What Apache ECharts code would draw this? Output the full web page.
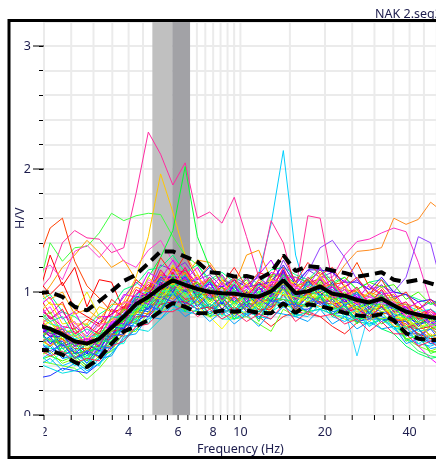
<!DOCTYPE html>
<html>
<head>
<meta charset="utf-8">
<script src="https://cdn.jsdelivr.net/npm/echarts@6/dist/echarts.min.js"></script>
<style>
  html, body { margin: 0; padding: 0; background: #ffffff; }
  #chart { width: 436px; height: 459px; }
</style>
</head>
<body>
<div id="chart"></div>
<script>
// Frequency samples (Hz), log-spaced
const freqs = [1.902,2.103,2.326,2.572,2.844,3.145,3.478,3.846,4.252,4.702,5.200,5.750,6.359,7.031,7.775,8.598,9.508,10.514,11.627,12.857,14.217,15.721,17.385,19.224,21.258,23.508,25.995,28.746,31.787,35.151,38.870,42.983,47.531,52.561];

// H/V curves of the individual time windows
const w01 = [1.00,1.12,1.40,1.50,1.44,1.43,1.32,1.36,1.80,2.30,2.12,1.87,2.05,1.60,1.65,1.56,1.77,1.45,1.12,1.02,1.18,0.94,1.08,1.06,1.02,0.92,0.96,0.86,0.98,0.84,0.82,0.74,0.76,0.70];
const w02 = [1.00,1.40,1.25,1.36,1.37,1.48,1.64,1.58,1.62,1.64,1.63,1.45,1.30,1.22,1.08,1.14,1.02,1.12,1.00,1.12,1.16,1.06,1.06,1.12,0.98,1.02,0.92,0.98,0.94,0.96,0.82,0.86,0.76,0.80];
const w03 = [1.25,1.52,1.60,1.25,1.05,0.95,0.84,0.86,0.94,1.02,1.12,1.08,1.10,1.08,0.94,1.04,0.92,1.00,0.90,1.06,1.04,0.92,1.00,1.10,0.94,0.98,0.86,0.94,0.88,0.92,0.78,0.82,0.72,0.76];
const w04 = [0.95,1.30,1.05,1.20,0.88,1.10,1.08,0.85,0.92,1.00,1.06,1.18,1.16,1.00,1.10,0.96,1.04,0.94,1.08,0.96,1.14,0.98,1.10,1.00,1.06,0.92,1.00,0.88,0.98,0.84,0.86,0.74,0.80,0.70];
const w05 = [0.92,1.05,1.20,1.30,1.42,1.32,1.20,1.26,1.10,1.02,1.16,1.08,1.12,1.26,1.24,1.10,1.05,1.30,1.34,1.10,1.08,1.06,1.00,1.14,1.00,1.04,0.92,1.00,0.96,0.98,0.84,0.88,0.78,0.82];
const w06 = [1.15,1.22,1.10,1.33,1.38,1.28,1.40,1.25,1.20,1.34,1.42,1.25,1.20,1.06,1.12,1.00,1.10,0.98,1.06,1.02,1.18,0.98,1.10,1.04,1.06,0.94,1.00,0.90,1.00,0.88,0.90,0.80,0.84,0.78];
const w07 = [0.80,0.74,0.70,0.66,0.74,0.88,0.84,0.92,1.12,1.45,1.96,1.65,1.30,1.15,0.96,1.04,0.90,1.00,0.86,0.98,1.00,0.88,1.02,0.94,0.92,0.84,0.92,0.82,0.90,0.78,0.80,0.70,0.74,0.68];
const w08 = [0.64,0.72,0.58,0.62,0.52,0.66,0.70,0.88,0.92,1.12,1.28,1.50,2.02,1.45,1.20,1.12,1.00,1.06,0.94,1.08,1.10,1.04,0.96,1.10,0.98,1.04,0.90,0.98,0.92,0.94,0.82,0.86,0.76,0.80];
const w09 = [0.58,0.64,0.50,0.56,0.46,0.58,0.62,0.80,0.82,0.96,0.94,1.08,0.96,1.00,0.90,1.00,0.88,1.00,1.15,1.55,2.15,1.30,0.96,1.06,0.92,0.98,0.86,0.92,0.86,0.88,0.76,0.80,0.70,0.74];
const w10 = [0.80,0.70,0.70,0.58,0.62,0.60,0.74,0.78,0.94,0.92,1.08,1.04,1.10,0.96,1.04,0.92,1.02,0.92,0.98,0.96,1.10,0.94,1.04,1.00,1.08,1.22,1.33,1.34,1.36,1.60,1.55,1.59,1.73,1.65];
const w11 = [0.72,0.80,0.66,0.68,0.56,0.70,0.72,0.88,0.90,1.04,1.04,1.16,1.02,1.08,0.98,1.04,0.98,1.06,0.94,1.08,1.08,1.06,1.00,1.12,1.12,1.30,1.41,1.43,1.48,1.52,1.49,1.24,0.92,0.84];
const w12 = [0.64,0.70,0.56,0.60,0.50,0.64,0.64,0.82,0.84,0.98,0.96,1.10,0.98,1.04,0.92,1.02,0.92,0.98,0.90,1.04,1.06,1.02,1.16,1.36,1.42,1.28,1.10,1.02,1.05,1.00,1.12,1.45,1.40,1.02];
const w13 = [0.76,0.64,0.68,0.56,0.60,0.56,0.74,0.76,0.96,0.94,1.10,1.06,1.10,0.98,1.04,0.94,1.04,0.94,1.10,1.58,1.40,1.02,1.62,1.60,1.08,0.96,1.00,0.90,1.02,0.88,0.90,0.78,0.84,0.74];
const w14 = [0.62,0.68,0.54,0.58,0.48,0.60,0.62,0.80,0.82,0.94,0.92,1.04,0.94,0.96,0.86,0.92,0.82,0.88,0.80,0.72,0.80,0.84,0.82,0.80,0.72,0.66,0.75,0.80,0.78,0.75,0.72,0.70,0.62,0.60];
const w15 = [0.52,0.58,0.46,0.50,0.42,0.52,0.58,0.72,0.78,0.88,0.90,1.00,0.92,0.94,0.88,0.92,0.86,0.92,0.84,0.92,0.96,0.90,0.90,0.96,0.86,0.86,0.48,0.84,0.88,0.82,0.72,0.66,0.64,0.62];
const w16 = [0.68,0.58,0.60,0.50,0.52,0.52,0.68,0.72,0.88,0.88,1.00,1.00,1.02,0.92,0.96,0.90,0.94,0.88,0.92,0.90,1.04,0.88,0.96,0.94,0.92,0.86,0.86,0.80,0.88,0.78,0.72,0.56,0.46,0.38];
const w17 = [0.56,0.62,0.50,0.50,0.44,0.54,0.60,0.74,0.78,0.88,0.92,1.00,0.92,0.92,0.86,0.90,0.84,0.90,0.82,0.90,0.94,0.88,0.88,0.94,0.84,0.86,0.78,0.80,0.78,0.76,0.62,0.52,0.48,0.46];
const w18 = [0.44,0.42,0.40,0.38,0.29,0.38,0.50,0.62,0.70,0.78,0.84,0.90,0.86,0.84,0.80,0.82,0.78,0.80,0.74,0.68,0.86,0.80,0.84,0.86,0.82,0.78,0.76,0.74,0.78,0.72,0.62,0.56,0.52,0.50];
const w19 = [0.30,0.32,0.38,0.36,0.34,0.42,0.54,0.66,0.76,0.82,0.90,0.92,0.92,0.86,0.88,0.84,0.86,0.82,0.84,0.88,0.92,0.86,0.86,0.92,0.82,0.84,0.76,0.78,0.78,0.76,0.66,0.66,0.58,0.60];
const w20 = [0.42,0.38,0.34,0.36,0.40,0.46,0.52,0.60,0.70,0.68,0.78,0.86,0.84,0.82,0.84,0.86,0.82,0.84,0.80,0.84,0.90,0.80,0.84,0.86,0.82,0.80,0.76,0.74,0.78,0.72,0.66,0.62,0.58,0.56];
const w21 = [0.55,0.50,0.58,0.46,0.50,0.48,0.66,0.70,0.86,0.84,0.98,1.02,0.90,0.98,0.88,0.96,0.84,0.92,0.86,0.98,1.02,0.88,0.96,0.92,0.86,0.94,0.82,0.88,0.84,0.80,0.70,0.76,0.64,0.66];
const w22 = [0.90,0.78,0.84,0.72,0.64,0.76,0.82,0.96,1.08,1.00,1.22,1.18,1.24,1.10,1.14,1.04,1.12,1.06,1.12,1.04,1.26,1.08,1.18,1.12,1.16,1.04,1.10,0.98,1.06,0.96,0.98,0.86,0.92,0.84];
const w23 = [0.44,0.50,0.40,0.44,0.36,0.42,0.50,0.62,0.70,0.78,0.82,0.90,0.84,0.90,0.80,0.86,0.78,0.84,0.80,0.78,0.88,0.82,0.80,0.90,0.80,0.76,0.82,0.72,0.78,0.70,0.62,0.58,0.56,0.60];
const w24 = [0.76,0.66,0.70,0.56,0.62,0.56,0.74,0.76,0.94,0.92,1.12,1.04,1.10,0.96,1.04,0.94,1.02,0.92,1.00,0.94,1.14,0.92,1.06,0.98,1.02,0.90,0.96,0.86,0.98,0.84,0.86,0.74,0.78,0.70];
const w25 = [1.10,0.98,1.08,0.86,0.80,0.74,0.82,0.88,0.98,1.06,1.00,1.16,1.02,1.08,0.98,1.04,0.96,1.00,0.92,1.02,1.06,0.96,0.98,1.00,0.90,0.92,0.86,0.84,0.88,0.78,0.74,0.66,0.62,0.64];
const w26 = [0.82,0.76,0.66,0.64,0.58,0.70,0.78,0.86,0.98,1.08,1.02,1.20,1.14,1.06,1.10,1.00,1.06,0.98,1.04,1.10,1.16,1.04,1.10,1.16,1.06,1.02,1.00,0.96,1.04,0.92,0.90,0.88,0.80,0.82];
const w27 = [0.62,0.56,0.66,0.84,1.00,0.80,0.70,0.78,0.84,0.96,0.94,1.06,0.98,1.02,0.92,0.98,0.90,0.96,0.88,0.96,1.00,0.90,0.98,0.94,0.88,0.92,0.84,0.86,0.90,0.80,0.78,0.70,0.72,0.66];
const w28 = [0.92,0.98,0.84,0.80,0.72,0.82,0.88,1.02,1.06,1.18,1.20,1.30,1.16,1.22,1.10,1.16,1.08,1.14,1.06,1.18,1.20,1.14,1.10,1.20,1.08,1.12,1.02,1.08,1.10,1.00,0.98,0.94,0.90,0.92];
const w29 = [0.52,0.56,0.46,0.48,0.40,0.52,0.56,0.72,0.76,0.88,0.86,0.98,0.92,0.86,0.90,0.84,0.92,0.86,0.82,0.92,0.94,0.84,0.92,0.96,0.84,0.86,0.78,0.84,0.80,0.76,0.66,0.70,0.60,0.64];
const w30 = [0.78,0.68,0.72,0.60,0.62,0.60,0.76,0.82,0.96,0.94,1.10,1.12,1.06,1.12,0.98,1.06,0.98,1.04,0.94,1.08,1.10,1.04,0.98,1.12,0.96,1.02,0.90,0.96,0.92,0.94,0.80,0.84,0.74,0.78];
const w31 = [0.86,0.80,0.72,0.70,0.60,0.70,0.78,0.84,0.98,1.04,1.14,1.12,1.18,1.06,1.08,1.00,1.04,0.96,1.02,1.06,1.16,1.00,1.08,1.10,1.04,0.98,1.02,0.92,1.00,0.90,0.88,0.82,0.86,0.78];
const w32 = [0.66,0.70,0.56,0.60,0.50,0.64,0.64,0.82,0.86,1.00,0.98,1.12,1.00,1.06,0.94,1.00,0.92,1.00,0.88,1.04,1.04,0.94,1.02,1.02,1.00,0.92,0.96,0.88,0.96,0.86,0.84,0.78,0.80,0.72];
const w33 = [0.48,0.52,0.42,0.46,0.38,0.48,0.52,0.68,0.68,0.84,0.84,0.98,0.88,0.92,0.82,0.90,0.82,0.88,0.78,0.90,0.90,0.86,0.84,0.96,0.82,0.86,0.76,0.82,0.78,0.80,0.62,0.64,0.52,0.56];
const w34 = [0.74,0.66,0.66,0.56,0.58,0.58,0.72,0.78,0.92,0.96,1.06,1.08,1.08,1.02,1.02,0.96,1.00,0.94,0.98,0.98,1.12,0.96,1.02,1.04,1.00,0.94,0.96,0.88,0.96,0.86,0.86,0.80,0.82,0.76];
const w35 = [0.84,0.74,0.72,0.62,0.64,0.64,0.78,0.82,0.98,1.00,1.12,1.14,1.12,1.04,1.08,1.00,1.04,0.98,1.00,1.00,1.14,0.98,1.06,1.04,1.02,0.96,0.98,0.92,1.00,0.90,0.90,0.84,0.86,0.80];
const w36 = [0.60,0.62,0.50,0.52,0.44,0.54,0.56,0.74,0.76,0.90,0.90,1.04,0.92,0.96,0.86,0.96,0.84,0.94,0.82,0.94,0.94,0.90,0.88,0.98,0.86,0.90,0.80,0.86,0.82,0.84,0.70,0.74,0.64,0.68];
const w37 = [1.02,0.90,0.90,0.74,0.74,0.64,0.78,0.78,0.92,0.90,1.04,1.00,1.04,0.92,0.98,0.86,0.96,0.84,0.90,0.84,0.98,0.86,0.92,0.88,0.88,0.82,0.84,0.76,0.84,0.72,0.72,0.62,0.66,0.58];
const w38 = [0.44,0.48,0.44,0.48,0.40,0.54,0.58,0.78,0.82,0.98,0.98,1.12,1.02,1.08,0.98,1.08,1.02,1.10,0.98,1.14,1.14,1.12,1.08,1.18,1.06,1.12,1.02,1.08,1.04,1.06,0.94,1.00,0.90,0.96];
const w39 = [0.68,0.60,0.60,0.50,0.52,0.54,0.66,0.70,0.84,0.86,0.96,0.98,1.08,1.10,1.20,1.08,1.02,0.92,0.96,0.92,1.06,0.92,1.00,0.98,0.96,0.90,0.92,0.84,0.92,0.82,0.80,0.74,0.76,0.68];
const w40 = [0.76,0.68,0.66,0.56,0.58,0.60,0.74,0.80,0.92,0.94,1.04,1.04,1.04,0.98,0.98,0.96,0.98,1.02,1.14,1.26,1.08,1.00,0.98,1.06,0.96,0.96,0.90,0.92,0.92,0.90,0.80,0.82,0.76,0.78];
const w41 = [0.60,0.54,0.54,0.46,0.48,0.50,0.64,0.70,0.86,0.90,1.00,1.02,1.00,0.90,0.88,0.78,0.78,0.82,0.90,0.92,1.02,0.90,0.96,0.96,0.94,0.88,0.88,0.82,0.90,0.80,0.76,0.68,0.70,0.64];
const w42 = [0.70,0.64,0.62,0.54,0.54,0.56,0.70,0.76,0.90,0.92,1.02,1.04,1.04,0.98,0.98,0.94,0.96,0.90,0.92,0.94,1.04,0.94,1.02,1.04,1.06,1.08,1.24,1.04,0.98,0.88,0.86,0.78,0.80,0.74];
const w43 = [0.78,0.70,0.68,0.58,0.60,0.58,0.68,0.70,0.80,0.80,0.90,0.92,0.92,0.86,0.88,0.82,0.88,0.80,0.86,0.86,0.98,0.84,0.92,0.92,0.90,0.84,0.86,0.80,0.88,0.78,0.76,0.70,0.72,0.66];
const w44 = [0.72,0.64,0.64,0.56,0.58,0.60,0.74,0.82,0.96,0.98,1.12,1.12,1.12,1.04,1.06,1.04,1.10,1.04,1.06,1.08,1.22,1.06,1.18,1.18,1.16,1.08,1.08,1.02,1.12,1.00,0.98,0.92,0.94,0.88];
const w45 = [0.66,0.60,0.58,0.50,0.52,0.54,0.68,0.74,0.86,0.88,0.98,1.08,1.02,1.00,0.94,0.97,0.92,0.98,0.91,0.99,1.02,0.97,0.95,1.04,0.94,0.95,0.88,0.90,0.90,0.88,0.78,0.79,0.73,0.76];
const w46 = [0.74,0.68,0.66,0.56,0.58,0.58,0.72,0.78,0.90,0.94,1.04,1.06,1.02,0.88,0.80,0.70,0.82,0.84,0.92,0.92,1.02,0.90,0.96,0.96,0.94,0.88,0.88,0.82,0.90,0.80,0.78,0.72,0.74,0.68];
const w47 = [0.98,0.82,0.92,0.70,0.78,0.72,0.94,0.86,1.10,1.02,1.28,1.14,1.30,1.10,1.22,1.06,1.20,1.04,1.16,1.12,1.30,1.08,1.24,1.14,1.20,1.04,1.12,0.98,1.10,0.94,1.00,0.86,0.94,0.84];
const w48 = [0.58,0.70,0.50,0.60,0.44,0.62,0.58,0.80,0.74,0.94,0.86,1.04,0.84,0.98,0.80,0.94,0.78,0.92,0.76,0.96,0.88,0.92,0.82,0.98,0.80,0.90,0.74,0.86,0.74,0.80,0.60,0.66,0.50,0.54];
const w49 = [0.70,0.58,0.66,0.50,0.58,0.52,0.72,0.70,0.92,0.86,1.08,1.00,1.14,0.94,1.08,0.90,1.06,0.88,1.04,0.92,1.18,0.90,1.10,0.96,1.08,0.88,1.00,0.82,0.96,0.80,0.84,0.72,0.80,0.70];
const w50 = [0.82,0.92,0.74,0.76,0.62,0.74,0.76,0.92,0.90,1.12,1.02,1.22,1.04,1.14,0.96,1.10,0.94,1.08,0.92,1.10,1.06,1.08,0.98,1.14,0.96,1.06,0.90,1.00,0.92,0.94,0.80,0.86,0.76,0.80];
const w51 = [0.50,0.42,0.52,0.40,0.46,0.40,0.58,0.58,0.78,0.74,0.94,0.88,1.00,0.84,0.96,0.80,0.92,0.80,0.90,0.82,1.00,0.80,0.94,0.86,0.90,0.80,0.86,0.72,0.84,0.70,0.72,0.58,0.64,0.52];
const w52 = [0.88,0.96,0.78,0.84,0.66,0.80,0.80,0.98,0.96,1.16,1.10,1.26,1.10,1.20,1.02,1.14,0.98,1.12,0.96,1.16,1.12,1.12,1.04,1.20,1.00,1.10,0.94,1.06,0.98,1.00,0.86,0.92,0.80,0.86];
const w53 = [0.64,0.56,0.62,0.46,0.54,0.46,0.66,0.64,0.84,0.82,1.00,0.94,1.06,0.88,1.02,0.86,0.98,0.84,0.96,0.86,1.10,0.86,1.00,0.90,0.98,0.84,0.92,0.78,0.90,0.76,0.78,0.64,0.72,0.60];
const w54 = [0.76,0.84,0.66,0.70,0.56,0.68,0.70,0.86,0.84,1.04,0.96,1.14,0.98,1.08,0.92,1.04,0.90,1.02,0.88,1.04,1.02,1.00,0.94,1.08,0.92,1.00,0.86,0.94,0.86,0.90,0.76,0.80,0.70,0.74];
const w55 = [0.56,0.64,0.48,0.54,0.42,0.56,0.54,0.74,0.72,0.90,0.84,1.00,0.86,0.94,0.82,0.92,0.80,0.90,0.78,0.94,0.90,0.90,0.84,0.96,0.82,0.90,0.76,0.84,0.76,0.80,0.64,0.70,0.58,0.62];
const w56 = [0.92,0.78,0.86,0.66,0.72,0.66,0.86,0.80,1.02,0.96,1.18,1.06,1.20,1.00,1.12,0.98,1.10,0.96,1.08,1.00,1.20,0.98,1.12,1.04,1.10,0.96,1.04,0.90,1.02,0.88,0.92,0.78,0.86,0.76];
const w57 = [0.62,0.70,0.54,0.58,0.48,0.60,0.60,0.78,0.78,0.96,0.90,1.06,0.92,1.00,0.88,0.96,0.86,0.94,0.84,0.96,0.94,0.92,0.88,0.98,0.86,0.88,0.78,0.80,0.70,0.66,0.56,0.50,0.46,0.48];
const w58 = [0.74,0.64,0.70,0.56,0.62,0.56,0.76,0.74,0.94,0.90,1.10,1.02,1.12,0.98,1.08,0.94,1.06,0.92,1.04,0.96,1.16,0.94,1.08,1.00,1.04,0.92,0.98,0.86,0.96,0.84,0.88,0.76,0.82,0.72];
const w59 = [0.40,0.46,0.36,0.42,0.34,0.46,0.48,0.64,0.66,0.80,0.78,0.90,0.80,0.86,0.76,0.84,0.74,0.82,0.72,0.84,0.82,0.80,0.76,0.86,0.74,0.80,0.70,0.76,0.70,0.72,0.58,0.62,0.54,0.56];
const w60 = [1.06,0.94,1.00,0.82,0.86,0.78,0.90,0.90,1.04,1.00,1.14,1.06,1.16,1.02,1.10,0.98,1.12,0.98,1.10,1.02,1.14,1.00,1.10,1.04,1.06,0.96,1.02,0.90,0.98,0.88,0.90,0.76,0.82,0.72];
const w61 = [0.66,0.60,0.64,0.52,0.58,0.54,0.72,0.72,0.88,0.88,1.02,0.98,1.08,0.94,1.04,0.92,1.02,0.90,1.00,0.94,1.08,0.92,1.02,0.96,1.00,0.90,0.94,0.84,0.92,0.82,0.80,0.70,0.74,0.64];
const w62 = [0.80,0.88,0.70,0.76,0.60,0.74,0.74,0.92,0.90,1.10,1.04,1.18,1.02,1.12,0.96,1.08,0.94,1.06,0.92,1.08,1.10,1.04,1.00,1.12,0.98,1.04,0.90,0.98,0.90,0.92,0.80,0.84,0.72,0.76];
const w63 = [0.60,0.52,0.58,0.46,0.52,0.48,0.64,0.66,0.82,0.80,0.96,0.92,1.02,0.88,0.98,0.86,0.96,0.84,0.94,0.88,1.04,0.86,0.96,0.90,0.94,0.84,0.90,0.78,0.88,0.76,0.76,0.64,0.70,0.58];
const w64 = [0.70,0.76,0.62,0.66,0.54,0.64,0.68,0.82,0.82,0.98,0.94,1.08,0.96,1.04,0.90,1.00,0.88,0.98,0.86,1.00,0.98,0.96,0.92,1.02,0.90,0.96,0.84,0.90,0.84,0.86,0.72,0.76,0.64,0.68];
const w65 = [0.54,0.48,0.52,0.42,0.46,0.44,0.56,0.60,0.72,0.74,0.84,0.84,0.90,0.80,0.86,0.78,0.84,0.76,0.82,0.78,0.90,0.76,0.84,0.80,0.82,0.74,0.78,0.68,0.76,0.66,0.66,0.56,0.60,0.52];
const w66 = [0.86,0.76,0.80,0.64,0.70,0.64,0.80,0.78,0.96,0.94,1.10,1.04,1.14,0.98,1.10,0.96,1.08,0.94,1.06,0.98,1.14,0.96,1.08,1.00,1.06,0.94,1.00,0.88,0.98,0.86,0.86,0.76,0.80,0.72];

const windowColors = [
  '#ff2aa0','#40ff40','#ff4000','#ff0000','#ff9900','#ff40d0','#ffc800','#00ff30','#00d0ff','#ff8c20',
  '#ff30c0','#9040ff','#ff3399','#ff1a1a','#30d8ff','#ff00ff','#30ff60','#70ff20','#2030ff','#00e0e0',
  '#0040ff','#8a2be2','#00bfff','#00ff00','#ff0000','#ff8000','#e6e600','#00ff80','#0080ff','#ff00ff',
  '#ff0080','#0000ff','#80ff00','#8000ff','#00ffff','#ff6600','#ffbf00','#40ff00','#0060ff','#c000ff',
  '#00ffbf','#ff4000','#ff0040','#4000ff','#00ff40','#ffff00','#ff2020','#20ff20','#2020ff','#ffe000',
  '#00ffe0','#e000ff','#ff7000','#70ff00','#0070ff','#ff0060','#00ff60','#a000ff','#00a0ff','#ffa000',
  '#40ff80','#ff40ff','#4040ff','#c0ff00','#ff2060','#00e0a0'
];

// Average H/V and its standard deviation bounds
const hvMean     = [0.73,0.70,0.655,0.60,0.58,0.62,0.71,0.80,0.90,0.96,1.035,1.095,1.057,1.025,1.00,0.99,0.985,0.972,0.962,1.005,1.095,0.99,1.005,1.045,0.985,0.97,0.935,0.915,0.945,0.89,0.84,0.815,0.795,0.78];
const hvPlusStd  = [0.99,1.0,0.96,0.88,0.85,0.925,1.005,1.09,1.14,1.233,1.33,1.33,1.287,1.245,1.16,1.152,1.126,1.13,1.105,1.16,1.30,1.17,1.21,1.20,1.175,1.155,1.125,1.14,1.16,1.10,1.08,1.10,1.07,1.04];
const hvMinusStd = [0.53,0.525,0.49,0.43,0.39,0.46,0.58,0.68,0.72,0.772,0.845,0.91,0.88,0.83,0.827,0.85,0.84,0.85,0.83,0.827,0.908,0.83,0.90,0.885,0.86,0.83,0.81,0.80,0.82,0.77,0.665,0.62,0.61,0.61];

// Peak frequency range f0 (Hz)
const f0BandLow  = [4.86, 5.72];
const f0BandHigh = [5.72, 6.62];

// Axis ranges, ticks and labels
const X_MIN = 2, X_MAX = 50, Y_MIN = 0, Y_MAX = 3.2;
const xGridFreqs = [2,2.5,3,3.5,4,4.5,5,5.5,6,6.5,7,7.5,8,8.5,9,9.5,10,15,20,25,30,35,40,45,50];
const xLabelFreqs = [2,4,6,8,10,20,40];
const yMajorTicks = [0,1,2,3];

const FONT = '"Noto Sans", "DejaVu Sans", sans-serif';
const TEXT_COLOR = '#1c1c4c';

const windows = [w01,w02,w03,w04,w05,w06,w07,w08,w09,w10,w11,w12,w13,w14,w15,w16,w17,w18,w19,w20,
                 w21,w22,w23,w24,w25,w26,w27,w28,w29,w30,w31,w32,w33,w34,w35,w36,w37,w38,w39,w40,
                 w41,w42,w43,w44,w45,w46,w47,w48,w49,w50,w51,w52,w53,w54,w55,w56,w57,w58,w59,w60,
                 w61,w62,w63,w64,w65,w66];

const pairs = arr => freqs.map((f, i) => [f, arr[i]]);

const series = [];

// vertical grid lines of the log frequency axis
series.push({
  type: 'custom', coordinateSystem: 'cartesian2d', silent: true, z: 1,
  data: xGridFreqs.map(f => [f, Y_MIN]), encode: { x: 0, y: 1 },
  renderItem: (params, api) => {
    const a = api.coord([api.value(0), Y_MIN]);
    const b = api.coord([api.value(0), Y_MAX]);
    return { type: 'line', shape: { x1: a[0], y1: a[1], x2: b[0], y2: b[1] },
             style: { stroke: '#ebebeb', lineWidth: 2 } };
  }
});

// f0 range bands
const bandColors = ['#c0c0c0', '#a2a2a6'];
series.push({
  type: 'custom', coordinateSystem: 'cartesian2d', silent: true, z: 2,
  data: [[f0BandLow[0], f0BandLow[1], Y_MIN], [f0BandHigh[0], f0BandHigh[1], Y_MIN]],
  encode: { x: [0, 1], y: 2 },
  renderItem: (params, api) => {
    const a = api.coord([api.value(0), Y_MAX]);
    const b = api.coord([api.value(1), Y_MIN]);
    return { type: 'rect', shape: { x: a[0], y: a[1], width: b[0] - a[0], height: b[1] - a[1] },
             style: { fill: bandColors[params.dataIndex] } };
  }
});

// individual windows
windows.forEach((w, i) => {
  series.push({
    type: 'line', data: pairs(w), symbol: 'none', silent: true, z: 3,
    lineStyle: { width: 1, color: windowColors[i] }, itemStyle: { color: windowColors[i] }
  });
});

// standard deviation curves and average
[hvPlusStd, hvMinusStd].forEach(arr => {
  series.push({
    type: 'line', data: pairs(arr), symbol: 'none', silent: true, z: 4,
    lineStyle: { width: 4, color: '#000000', type: [11, 6] }, itemStyle: { color: '#000' }
  });
});
series.push({
  type: 'line', data: pairs(hvMean), symbol: 'none', silent: true, z: 4,
  lineStyle: { width: 4, color: '#000000' }, itemStyle: { color: '#000' }
});

// frequency axis ticks
series.push({
  type: 'custom', coordinateSystem: 'cartesian2d', silent: true, z: 5,
  data: xGridFreqs.map(f => [f, Y_MIN]), encode: { x: 0, y: 1 },
  renderItem: (params, api) => {
    const a = api.coord([api.value(0), Y_MIN]);
    return { type: 'line', shape: { x1: a[0], y1: a[1], x2: a[0], y2: a[1] + 5 },
             style: { stroke: '#000', lineWidth: 1 } };
  }
});
// frequency axis labels
series.push({
  type: 'custom', coordinateSystem: 'cartesian2d', silent: true, z: 5,
  data: xLabelFreqs.map(f => [f, Y_MIN]), encode: { x: 0, y: 1 },
  renderItem: (params, api) => {
    const a = api.coord([api.value(0), Y_MIN]);
    return { type: 'text', style: { x: a[0], y: a[1] + 17, text: String(api.value(0)),
             textAlign: 'center', textVerticalAlign: 'middle', fill: TEXT_COLOR,
             font: '12.5px ' + FONT } };
  }
});
// longer ticks at the integer H/V values
series.push({
  type: 'custom', coordinateSystem: 'cartesian2d', silent: true, z: 5,
  data: yMajorTicks.map(v => [X_MIN, v]), encode: { x: 0, y: 1 },
  renderItem: (params, api) => {
    const a = api.coord([X_MIN, api.value(1)]);
    return { type: 'line', shape: { x1: a[0] - 11, y1: a[1], x2: a[0], y2: a[1] },
             style: { stroke: '#000', lineWidth: 1 } };
  }
});

const chart = echarts.init(document.getElementById('chart'), null, { renderer: 'canvas' });
chart.setOption({
  animation: false,
  backgroundColor: '#ffffff',
  textStyle: { fontFamily: FONT },
  title: {
    text: 'NAK 2.seg2', left: 370, top: 3,
    textStyle: { fontSize: 12.5, fontWeight: 'normal', color: TEXT_COLOR, fontFamily: FONT }
  },
  grid: { left: 44, top: 21.4, width: 392.8, height: 393.6, containLabel: false, outerBoundsMode: 'none' },
  xAxis: {
    type: 'log', logBase: 10, min: X_MIN, max: X_MAX,
    axisLine: { show: false }, axisTick: { show: false }, axisLabel: { show: false },
    splitLine: { show: false }, minorSplitLine: { show: false },
    name: 'Frequency (Hz)', nameLocation: 'middle', nameGap: 28,
    nameTextStyle: { color: TEXT_COLOR, fontSize: 12.5, fontFamily: FONT }
  },
  yAxis: {
    type: 'value', min: Y_MIN, max: Y_MAX, interval: 0.2,
    axisLine: { show: false },
    axisTick: { show: true, length: 5, lineStyle: { color: '#000', width: 1 } },
    axisLabel: {
      margin: 13, color: TEXT_COLOR, fontSize: 12.5, fontFamily: FONT,
      formatter: v => (Math.abs(v - Math.round(v)) < 1e-6 ? String(Math.round(v)) : '')
    },
    splitLine: { show: true, lineStyle: { color: '#ebebeb', width: 2 } },
    name: 'H/V', nameLocation: 'middle', nameGap: 17, nameRotate: 90, nameMoveOverlap: false,
    nameTextStyle: { color: TEXT_COLOR, fontSize: 12.5, fontFamily: FONT }
  },
  graphic: [
    // the "0" and "2" labels are cut by the plot edges
    { type: 'rect', z: 100, shape: { x: 16, y: 416, width: 17, height: 10 }, style: { fill: '#ffffff' } },
    { type: 'rect', z: 100, shape: { x: 34, y: 424, width: 9.5, height: 16 }, style: { fill: '#ffffff' } },
    // frame
    { type: 'rect', z: 101, shape: { x: 9, y: 20.5, width: 600, height: 437 },
      style: { fill: 'none', stroke: '#000000', lineWidth: 3 } }
  ],
  series: series
});
</script>
</body>
</html>
